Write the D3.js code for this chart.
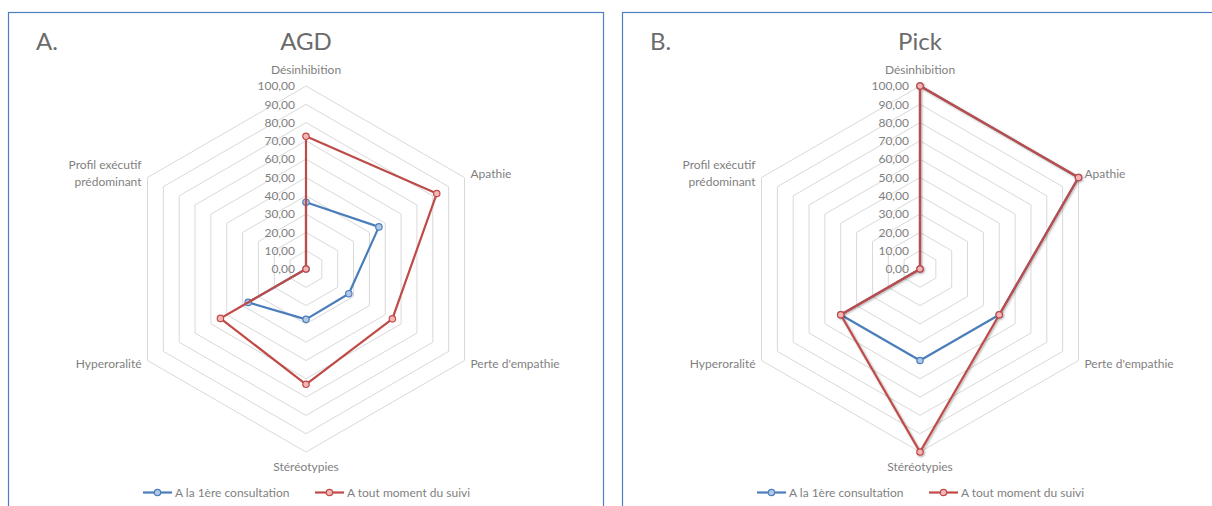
<!DOCTYPE html>
<html><head><meta charset="utf-8">
<script src="https://cdn.jsdelivr.net/npm/d3@7"></script>
<style>
html,body{margin:0;padding:0;background:#fff;}
svg{display:block;font-family:Lato,"Open Sans",sans-serif;}
</style></head>
<body>
<svg id="c" width="1212" height="506"></svg>
<script>
const categories = ["Désinhibition","Apathie","Perte d'empathie","Stéréotypies","Hyperoralité","Profil exécutif\nprédominant"];
const seriesNames = ["A la 1ère consultation","A tout moment du suivi"];
const agdFirst = [36.5, 46, 27, 27.5, 36.5, 0];
const agdAny   = [72.5, 82.5, 54.5, 63, 54, 0];
const pickFirst = [100, 100, 50, 50, 50, 0];
const pickAny   = [100, 100, 50, 100, 50, 0];
const tickValues = [0,10,20,30,40,50,60,70,80,90,100];
const panelLetters = ["A.","B."];
const panelTitles = ["AGD","Pick"];

const svg = d3.select("#c");
const colors = ["#4a7ebb","#be4b48"];
const fills = ["#b3c8e6","#f1b6b5"];
const fmt = d3.formatLocale({decimal:",",thousands:" ",grouping:[3],currency:["",""]}).format(".2f");

const defs = svg.append("defs");
const f = defs.append("filter").attr("id","sh").attr("x","-10%").attr("y","-10%").attr("width","120%").attr("height","120%");
f.append("feDropShadow").attr("dx",1).attr("dy",1).attr("stdDeviation",1).attr("flood-color","#000").attr("flood-opacity",0.35);

const panels = [
  {x:8, data:[agdFirst, agdAny], shadow:false},
  {x:622, data:[pickFirst, pickAny], shadow:true}
];
const W = 595;
const r = d3.scaleLinear().domain([0,100]).range([0,183]);
const ang = d3.scaleLinear().domain([0,categories.length]).range([0,2*Math.PI]);

panels.forEach((p,pi)=>{
  const g = svg.append("g").attr("transform",`translate(${p.x},0)`);
  g.append("rect").attr("x",0.5).attr("y",12.5).attr("width",W).attr("height",520)
    .attr("fill","#fff").attr("stroke","#4f7bbf").attr("stroke-width",1.2);
  g.append("text").attr("x",28).attr("y",50).attr("font-size",24).attr("fill","#6b6b6b").text(panelLetters[pi]);
  const cx = W/2 + 0.5, cy = 269;
  g.append("text").attr("x",cx).attr("y",50).attr("text-anchor","middle").attr("font-size",24).attr("fill","#6b6b6b").text(panelTitles[pi]);
  const c = g.append("g").attr("transform",`translate(${cx},${cy})`);
  const ring = d3.lineRadial().angle((d,i)=>ang(i)).radius(d=>r(d)).curve(d3.curveLinearClosed);
  tickValues.filter(v=>v>0).forEach(v=>{
    c.append("path").attr("d",ring(categories.map(()=>v))).attr("fill","none").attr("stroke","#d9d9d9").attr("stroke-width",1);
  });
  tickValues.forEach(v=>{
    c.append("text").attr("x",-11).attr("y",-r(v)).attr("dy","0.35em").attr("text-anchor","end")
      .attr("font-size",12).attr("fill","#7f7f7f").text(fmt(v));
  });
  categories.forEach((cat,i)=>{
    const a = ang(i);
    const R = r(100);
    const vx = R*Math.sin(a), vy = -R*Math.cos(a);
    const lines = cat.split("\n");
    let anchor="middle", tx=vx, ty=vy;
    const sx = Math.sin(a), sy = -Math.cos(a);
    if (Math.abs(sx) < 0.01) { ty = vy + (sy<0 ? -16 : 15); }
    else { anchor = sx>0 ? "start":"end"; tx = vx + (sx>0?6:-6); ty = vy + (sy<0?-4:3); }
    const t = c.append("text").attr("text-anchor",anchor).attr("font-size",12).attr("fill","#7f7f7f");
    lines.forEach((ln,li)=>{
      t.append("tspan").attr("x",tx).attr("y",ty + (li-(lines.length-1)/2)*17).attr("dy","0.35em").text(ln);
    });
  });
  p.data.forEach((vals,si)=>{
    const sg = c.append("g");
    if (p.shadow && si===1) sg.attr("filter","url(#sh)");
    sg.append("path").attr("d",ring(vals)).attr("fill","none").attr("stroke",colors[si]).attr("stroke-width",2.2).attr("stroke-linejoin","round");
    sg.selectAll("circle").data(vals).join("circle")
      .attr("cx",(d,i)=>r(d)*Math.sin(ang(i))).attr("cy",(d,i)=>-r(d)*Math.cos(ang(i)))
      .attr("r",3.2).attr("fill",fills[si]).attr("stroke",colors[si]).attr("stroke-width",1.2);
  });
  const lx = [135, 307];
  seriesNames.forEach((nm,si)=>{
    const lg = g.append("g").attr("transform",`translate(${lx[si]},492.5)`);
    lg.append("line").attr("x1",0).attr("x2",29).attr("stroke",colors[si]).attr("stroke-width",2.2);
    lg.append("circle").attr("cx",14.5).attr("r",3.2).attr("fill",fills[si]).attr("stroke",colors[si]).attr("stroke-width",1.2);
    lg.append("text").attr("x",32).attr("dy","0.35em").attr("font-size",12).attr("fill","#7f7f7f").text(nm);
  });
});
</script>
</body></html>
